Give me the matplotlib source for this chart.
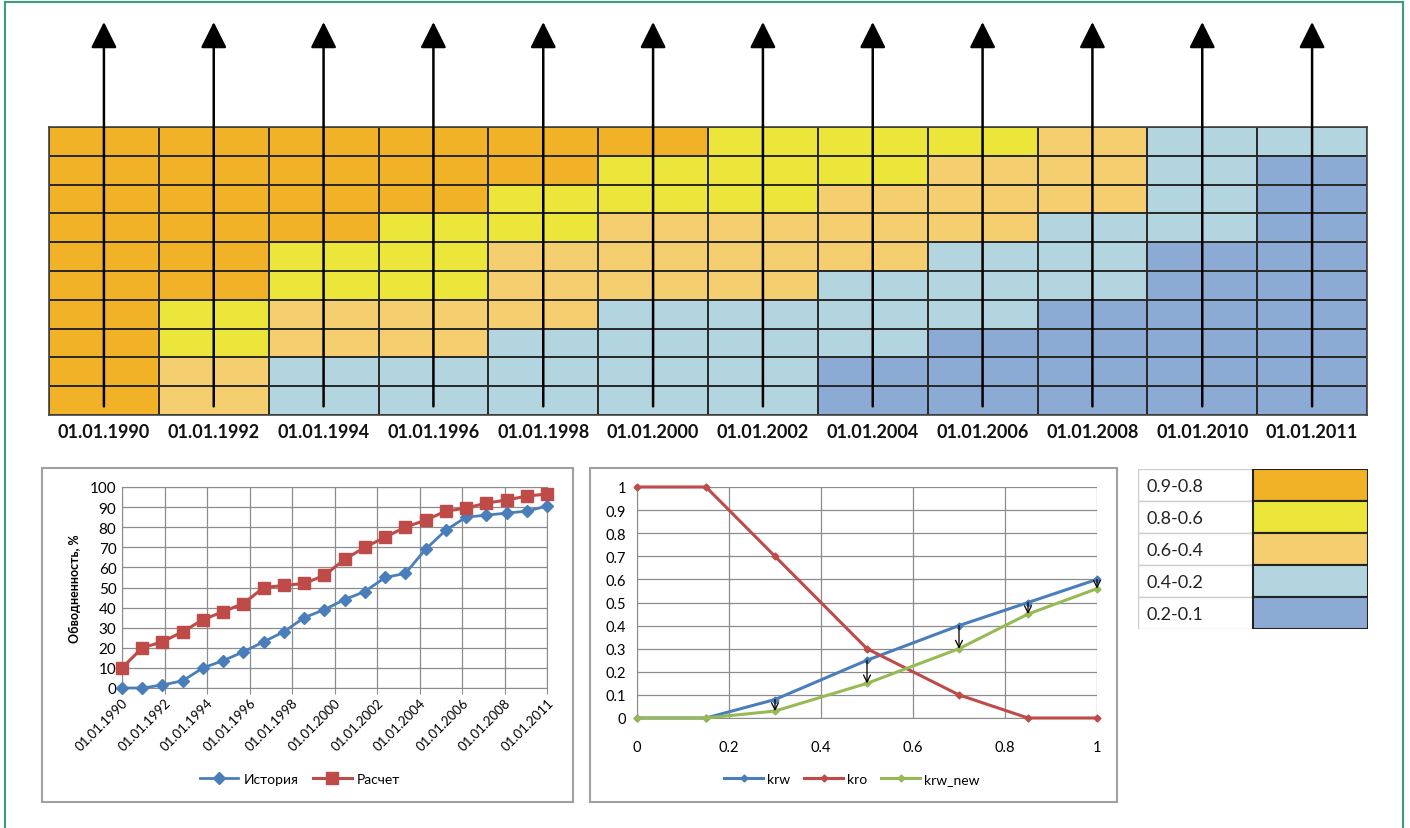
import numpy as np
import matplotlib
matplotlib.use('Agg')
import matplotlib.pyplot as plt
from matplotlib.colors import ListedColormap
from matplotlib.patches import Rectangle
from matplotlib.lines import Line2D

plt.rcParams['font.family'] = ['Lato', 'DejaVu Sans']

W, H = 1410, 829

# ---------------- data ----------------
column_dates = ['01.01.1990', '01.01.1992', '01.01.1994', '01.01.1996',
                '01.01.1998', '01.01.2000', '01.01.2002', '01.01.2004',
                '01.01.2006', '01.01.2008', '01.01.2010', '01.01.2011']
zone_labels = ['0.9-0.8', '0.8-0.6', '0.6-0.4', '0.4-0.2', '0.2-0.1']
zone_colors = ['#F2B227', '#ECE63B', '#F5CF6F', '#B3D5DF', '#8BAAD4']
# number of layers (top to bottom) falling in each zone, for every date
zone_counts = [
    [10, 0, 0, 0, 0],
    [6, 2, 2, 0, 0],
    [4, 2, 2, 2, 0],
    [3, 3, 2, 2, 0],
    [2, 2, 3, 3, 0],
    [1, 2, 3, 4, 0],
    [0, 3, 3, 4, 0],
    [0, 2, 3, 3, 2],
    [0, 1, 3, 3, 3],
    [0, 0, 3, 3, 4],
    [0, 0, 0, 4, 6],
    [0, 0, 0, 1, 9],
]

wc_tick_labels = ['01.01.1990', '01.01.1992', '01.01.1994', '01.01.1996',
                  '01.01.1998', '01.01.2000', '01.01.2002', '01.01.2004',
                  '01.01.2006', '01.01.2008', '01.01.2011']
wc_history = [0, 0, 1.5, 3.6, 10, 13.6, 18, 23, 28, 35, 39, 44, 48, 55, 57,
              69, 78.5, 85, 86, 87, 88, 90.5]
wc_calc = [10, 20, 23, 28, 34, 38, 42, 50, 51, 52, 56, 64, 70, 75, 80, 83.5,
           88, 89.5, 92, 93.5, 95.5, 96.5]

sw = [0, 0.15, 0.3, 0.5, 0.7, 0.85, 1.0]
krw = [0, 0, 0.08, 0.25, 0.4, 0.5, 0.6]
kro = [1, 1, 0.7, 0.3, 0.1, 0, 0]
krw_new = [0, 0, 0.03, 0.15, 0.3, 0.45, 0.56]


def rect(x0, y0, x1, y1):
    return [x0 / W, 1 - y1 / H, (x1 - x0) / W, (y1 - y0) / H]


fig = plt.figure(figsize=(W / 100, H / 100), dpi=100)

# outer frame (left, top, right)
frame_c = '#3C9C7C'
fig.add_artist(Line2D([5 / W, 5 / W], [0, 1 - 3 / H], color=frame_c, lw=1.5, transform=fig.transFigure))
fig.add_artist(Line2D([5 / W, 1403 / W], [1 - 3 / H, 1 - 3 / H], color=frame_c, lw=1.5, transform=fig.transFigure))
fig.add_artist(Line2D([1403 / W, 1403 / W], [0, 1 - 3 / H], color=frame_c, lw=1.5, transform=fig.transFigure))

# ---------------- top grid ----------------
ncol = len(column_dates)
nrow = sum(zone_counts[0])
Z = np.array([np.repeat(np.arange(len(zone_labels)), c) for c in zone_counts]).T  # rows top->bottom
ax = fig.add_axes(rect(49, 128, 1367, 416))
cmap = ListedColormap(zone_colors)
ax.pcolormesh(np.arange(ncol + 1), np.arange(nrow + 1), Z, cmap=cmap, vmin=-0.5,
              vmax=len(zone_colors) - 0.5, edgecolors='#2b2b2b', linewidth=1.2)
ax.set_xlim(0, ncol)
ax.set_ylim(nrow, 0)
for s in ax.spines.values():
    s.set_color('#444444')
    s.set_linewidth(1.2)
ax.set_yticks([])
ax.set_xticks(np.arange(ncol) + 0.5)
ax.set_xticklabels(column_dates, fontweight='bold', fontsize=13, color='#111111')
ax.tick_params(axis='x', length=0, pad=6)
row_px = (416 - 128) / nrow
tip = -(128 - 23) / row_px
for c in range(ncol):
    ax.annotate('', xy=(c + 0.5, tip), xytext=(c + 0.5, nrow - 0.3),
                arrowprops=dict(arrowstyle='-|>,head_length=0.8,head_width=0.4',
                                lw=1.8, color='black', mutation_scale=20,
                                shrinkA=0, shrinkB=0),
                annotation_clip=False)

# ---------------- chart boxes ----------------
for (x0, y0, x1, y1) in [(42, 469, 573, 803), (590, 469, 1117, 803)]:
    fig.add_artist(Rectangle((x0 / W, 1 - y1 / H), (x1 - x0) / W, (y1 - y0) / H,
                             transform=fig.transFigure, fill=False,
                             edgecolor='#A0A0A0', lw=1.5))

# ---------------- water cut chart ----------------
blue = '#4A7EBB'
red = '#BE4B48'
green = '#98BA55'
grid_c = '#8C8C8C'

ax1 = fig.add_axes(rect(122, 488, 547, 689))
xi = np.arange(len(wc_history))
ax1.plot(xi, wc_history, color=blue, lw=2, marker='D', ms=6, label='История', clip_on=False, zorder=3)
ax1.plot(xi, wc_calc, color=red, lw=2.2, marker='s', ms=8, label='Расчет', clip_on=False, zorder=3)
ax1.set_xlim(0, len(wc_history) - 1)
ax1.set_ylim(0, 100)
ax1.set_yticks(np.arange(0, 101, 10))
ax1.set_xticks(np.linspace(0, len(wc_history) - 1, len(wc_tick_labels)))
ax1.set_xticklabels(wc_tick_labels, rotation=45, ha='right', rotation_mode='anchor', fontsize=9.5)
ax1.tick_params(axis='y', labelsize=11, length=0, pad=4)
ax1.tick_params(axis='x', length=4, color=grid_c, pad=2)
ax1.grid(True, color=grid_c, lw=0.9)
ax1.set_axisbelow(True)
for s in ax1.spines.values():
    s.set_color(grid_c)
ax1.set_ylabel('Обводненность, %', fontweight='bold', fontsize=9, labelpad=6)
ax1.legend(loc='center', bbox_to_anchor=(300 / W, 1 - 780 / H), bbox_transform=fig.transFigure,
           ncol=2, frameon=False, fontsize=10, handlelength=2.8, columnspacing=1.0, handletextpad=0.4)

# ---------------- relative permeability chart ----------------
ax2 = fig.add_axes(rect(637, 488, 1097, 719))
ax2.plot(sw, krw, color=blue, lw=2.2, marker='D', ms=3.5, label='krw', clip_on=False, zorder=3)
ax2.plot(sw, kro, color=red, lw=2.2, marker='D', ms=3.5, label='kro', clip_on=False, zorder=3)
ax2.plot(sw, krw_new, color=green, lw=2.2, marker='D', ms=3.5, label='krw_new', clip_on=False, zorder=3)
for x, a, b in zip(sw, krw, krw_new):
    if a - b > 0.001:
        ax2.annotate('', xy=(x, b), xytext=(x, a),
                     arrowprops=dict(arrowstyle='->,head_length=0.5,head_width=0.25',
                                     lw=0.9, color='black', shrinkA=0, shrinkB=0),
                     zorder=4)
ax2.set_xlim(0, 1)
ax2.set_ylim(0, 1)
ax2.set_xticks([0, 0.2, 0.4, 0.6, 0.8, 1])
ax2.set_xticklabels(['0', '0.2', '0.4', '0.6', '0.8', '1'])
ax2.set_yticks(np.arange(0, 1.01, 0.1))
ax2.set_yticklabels(['0', '0.1', '0.2', '0.3', '0.4', '0.5', '0.6', '0.7', '0.8', '0.9', '1'])
ax2.tick_params(axis='y', labelsize=10.5, length=0, pad=8)
ax2.tick_params(axis='x', labelsize=10.5, length=0, pad=16)
ax2.grid(True, color=grid_c, lw=0.9)
ax2.set_axisbelow(True)
for s in ax2.spines.values():
    s.set_visible(False)
ax2.spines['left'].set_visible(True)
ax2.spines['left'].set_color(grid_c)
ax2.spines['bottom'].set_visible(True)
ax2.spines['bottom'].set_color(grid_c)
ax2.legend(loc='center', bbox_to_anchor=(852 / W, 1 - 780 / H), bbox_transform=fig.transFigure,
           ncol=3, frameon=False, fontsize=10, handlelength=2.8, columnspacing=1.0, handletextpad=0.3)

# ---------------- zone legend table ----------------
ax3 = fig.add_axes(rect(1138, 470, 1368, 630))
n = len(zone_labels)
ax3.set_xlim(0, 2)
ax3.set_ylim(n, 0)
ax3.axis('off')
for i, (lab, col) in enumerate(zip(zone_labels, zone_colors)):
    ax3.add_patch(Rectangle((0, i), 1, 1, facecolor='white', edgecolor='#CFCFCF', lw=1))
    ax3.add_patch(Rectangle((1, i), 1, 1, facecolor=col, edgecolor='#222222', lw=1.5))
    ax3.text(0.07, i + 0.52, lab, ha='left', va='center', fontsize=13, color='#222222')

fig.savefig('out.png', dpi=100)
